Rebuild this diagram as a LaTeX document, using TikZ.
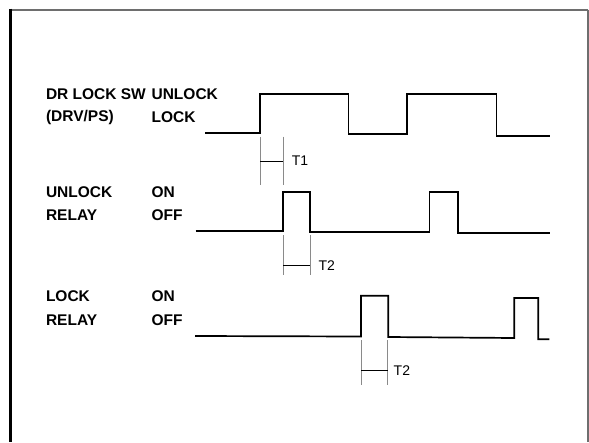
\documentclass[tikz,border=0pt]{standalone}
\usepackage{fontspec}
\setmainfont{Liberation Sans}
\usepackage{xcolor}
\definecolor{frameGray}{HTML}{6E6E6E}
\definecolor{tickGray}{HTML}{8A8A8A}
\usetikzlibrary{positioning}
\tikzset{
    % signal names on the left
    signal name/.style={
        anchor=west,
        inner sep=0pt,
        font=\fontsize{15.5}{18}\selectfont\bfseries,
    },
    % state names (UNLOCK / LOCK, ON / OFF)
    state name/.style={
        signal name,
    },
    % waveform lines
    wave/.style={
        line width=1.7pt,
        line join=miter,
    },
    % timing marks
    tick line/.style={
        draw=tickGray,
        line width=0.7pt,
    },
    span line/.style={
        draw=black,
        line width=0.8pt,
    },
    time label/.style={
        anchor=west,
        inner sep=0pt,
        font=\fontsize{14}{16}\selectfont,
    },
}

\begin{document}
\begin{tikzpicture}[x=1pt, y=-1pt]
    \useasboundingbox (0,0) rectangle (589,442);

    % frame (open at the bottom)
    \draw [line width=2pt, frameGray] (10,9.5) -- (588,9.5);
    \draw [line width=1.2pt, frameGray] (588,9.5) -- (588,442);
    \draw [line width=2.6pt, black] (10.5,8.5) -- (10.5,442);

    % labels
    \node (swName)   [signal name] at (45.8,94.3) {DR LOCK SW};
    \node (swSide)   [signal name] at (45.8,117.3) {(DRV/PS)};
    \node (swHigh)   [state name]  at (151.4,94.3) {UNLOCK};
    \node (swLow)    [state name]  at (151.4,117.3) {LOCK};

    \node (ulName)   [signal name] at (45.8,191.7) {UNLOCK};
    \node (ulRelay)  [signal name] at (45.8,215) {RELAY};
    \node (ulHigh)   [state name]  at (151.4,191.7) {ON};
    \node (ulLow)    [state name]  at (151.4,215) {OFF};

    \node (lkName)   [signal name] at (45.8,296) {LOCK};
    \node (lkRelay)  [signal name] at (45.8,320) {RELAY};
    \node (lkHigh)   [state name]  at (151.4,296) {ON};
    \node (lkLow)    [state name]  at (151.4,320) {OFF};

    % DR LOCK SW waveform
    \draw [wave] (205,133.3) -- (260,133.3) -- (260,94) -- (348.6,94)
        -- (348.6,134) -- (406.8,134) -- (406.8,94) -- (496.6,94)
        -- (496.6,136) -- (549.6,136);

    % UNLOCK RELAY waveform
    \draw [wave] (195.7,230.7) -- (283,230.7) -- (283,191.7) -- (310,191.7)
        -- (310,232) -- (429.4,232) -- (429.4,192.3) -- (458.3,192.3)
        -- (458.3,233.3) -- (549.6,233.3);

    % LOCK RELAY waveform
    \draw [wave] (195,336) -- (361,336.5) -- (361,295.7) -- (388.3,295.7)
        -- (388.3,337) -- (514.3,338) -- (514.3,298) -- (538.3,298)
        -- (538.3,339.3) -- (549.3,339.3);

    % T1
    \draw [tick line] (260,136.7) -- (260,185);
    \draw [tick line] (283.3,136.7) -- (283.3,185);
    \draw [span line] (260,161) -- (283.3,161);
    \node (tOne) [time label] at (291.7,160.7) {T1};

    % T2 (unlock relay)
    \draw [tick line] (283,235) -- (283,275);
    \draw [tick line] (310,235) -- (310,275);
    \draw [span line] (283,265.7) -- (310,265.7);
    \node (tTwoA) [time label] at (318.3,265.7) {T2};

    % T2 (lock relay)
    \draw [tick line] (361,340) -- (361,385);
    \draw [tick line] (387.5,340) -- (387.5,385);
    \draw [span line] (361,370.8) -- (387.5,370.8);
    \node (tTwoB) [time label] at (393.5,370.8) {T2};
\end{tikzpicture}
\end{document}
